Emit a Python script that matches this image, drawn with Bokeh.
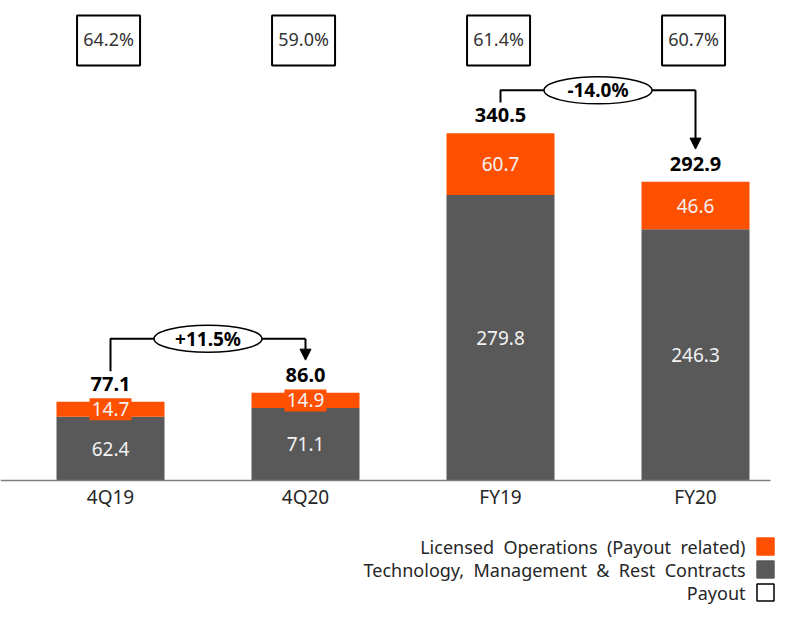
from bokeh.plotting import figure
from bokeh.models import ColumnDataSource, Range1d, Arrow, NormalHead
from bokeh.core.properties import value
from bokeh.embed import file_html
from bokeh.resources import INLINE

# ---- data ----
categories = ["4Q19", "4Q20", "FY19", "FY20"]
tech_mgmt = [62.4, 71.1, 279.8, 246.3]
licensed = [14.7, 14.9, 60.7, 46.6]
totals = [77.1, 86.0, 340.5, 292.9]
payout = ["64.2%", "59.0%", "61.4%", "60.7%"]
growth_labels = ["+11.5%", "-14.0%"]
growth_pairs = [(0, 1), (2, 3)]
legend_labels = ["Licensed Operations (Payout related)",
                 "Technology, Management & Rest Contracts",
                 "Payout"]

# ---- style / layout ----
ORANGE = "#FF5000"
GRAY = "#595959"
LIGHT = "#F2F2F2"
FONT = "Noto Sans"
W, H = 776, 604
PX = 1.02          # pixels per value unit
BASE = 480         # px from top where value 0 sits
STEP = 195         # px between category centres
X0 = 110           # px of first category centre
BAR_W = 108 / STEP
bracket_offset = [53, 42]
leg_gap = 30
tip_gap = 32

xs = list(range(len(categories)))

def px_x(px):
    return (px - X0) / STEP

def px_y(px):
    return (BASE - px) / PX

p = figure(width=W, height=H, output_backend="svg", toolbar_location=None,
           x_range=Range1d(px_x(0), px_x(W)),
           y_range=Range1d(px_y(H), px_y(0)),
           x_axis_type=None, y_axis_type=None, min_border=0,
           outline_line_color=None, background_fill_color="white",
           border_fill_color="white")
p.grid.visible = False

src = ColumnDataSource(dict(x=xs, tech=tech_mgmt, lic=licensed))
p.vbar_stack(["tech", "lic"], x="x", width=BAR_W, color=[GRAY, ORANGE],
             line_color=None, source=src)

# orange label tabs for thin segments
tab_x = [x for x, v in zip(xs, licensed) if v * PX < 22]
tab_y = [t + v / 2 for t, v in zip(tech_mgmt, licensed) if v * PX < 22]
p.rect(x=tab_x, y=tab_y, width=42, height=22, width_units="screen",
       height_units="screen", fill_color=ORANGE, line_color=None)

# segment labels
p.text(x=xs, y=[t / 2 for t in tech_mgmt], text=[f"{v:.1f}" for v in tech_mgmt],
       text_color=LIGHT, text_font=value(FONT), text_font_size="19px",
       text_align="center", text_baseline="middle")
p.text(x=xs, y=[t + v / 2 for t, v in zip(tech_mgmt, licensed)],
       text=[f"{v:.1f}" for v in licensed],
       text_color=LIGHT, text_font=value(FONT), text_font_size="19px",
       text_align="center", text_baseline="middle")

# totals
p.text(x=xs, y=totals, text=[f"{v:.1f}" for v in totals], y_offset=-18,
       text_color="black", text_font=value(FONT), text_font_size="20px",
       text_font_style="bold", text_align="center", text_baseline="alphabetic")

# baseline and category labels
p.segment(x0=[px_x(0)], y0=[0], x1=[px_x(770)], y1=[0],
          line_color="#7F7F7F", line_width=1.5)
p.text(x=xs, y=[0] * len(xs), text=categories, y_offset=16,
       text_color="#262626", text_font=value(FONT), text_font_size="19px",
       text_align="center", text_baseline="middle")

# payout boxes
PAYOUT_Y = px_y(40)
p.rect(x=[x - 0.01 for x in xs], y=[PAYOUT_Y] * len(xs), width=63, height=50,
       width_units="screen", height_units="screen", fill_color="white",
       line_color="black", line_width=2)
p.text(x=[x - 0.01 for x in xs], y=[PAYOUT_Y] * len(xs), text=payout,
       text_color="#333333", y_offset=-2,
       text_font=value(FONT), text_font_size="18px", text_align="center",
       text_baseline="middle")

# growth brackets
for (a, b), lab, off in zip(growth_pairs, growth_labels, bracket_offset):
    top = max(totals[a], totals[b]) + off
    p.line(x=[a, a, b], y=[totals[a] + leg_gap, top, top],
           line_color="black", line_width=2)
    p.add_layout(Arrow(end=NormalHead(size=11, fill_color="black", line_color="black"),
                       x_start=b, y_start=top, x_end=b, y_end=totals[b] + tip_gap,
                       line_color="black", line_width=2))
    p.ellipse(x=[(a + b) / 2], y=[top], width=108, height=27, width_units="screen",
              height_units="screen", fill_color="white", line_color="black",
              line_width=1.5)
    p.text(x=[(a + b) / 2], y=[top], text=[lab], text_color="black",
           text_font=value(FONT), text_font_size="19px", text_font_style="bold",
           text_align="center", text_baseline="middle")

# legend (labels right aligned, swatches at right)
sq_x = px_x(765)
tx_x = px_x(745)
leg_y = [px_y(546), px_y(569), px_y(592)]
p.rect(x=[sq_x] * 3, y=leg_y, width=17, height=17, width_units="screen",
       height_units="screen", fill_color=[ORANGE, GRAY, "white"],
       line_color=[ORANGE, GRAY, "black"], line_width=1.5)
p.text(x=[tx_x] * 3, y=leg_y, text=[s.replace(" ", "\u00a0 ") for s in legend_labels],
       text_color="#262626",
       text_font=value(FONT), text_font_size="18px", text_align="right",
       text_baseline="middle")

open("out.html", "w").write(file_html(p, INLINE))
